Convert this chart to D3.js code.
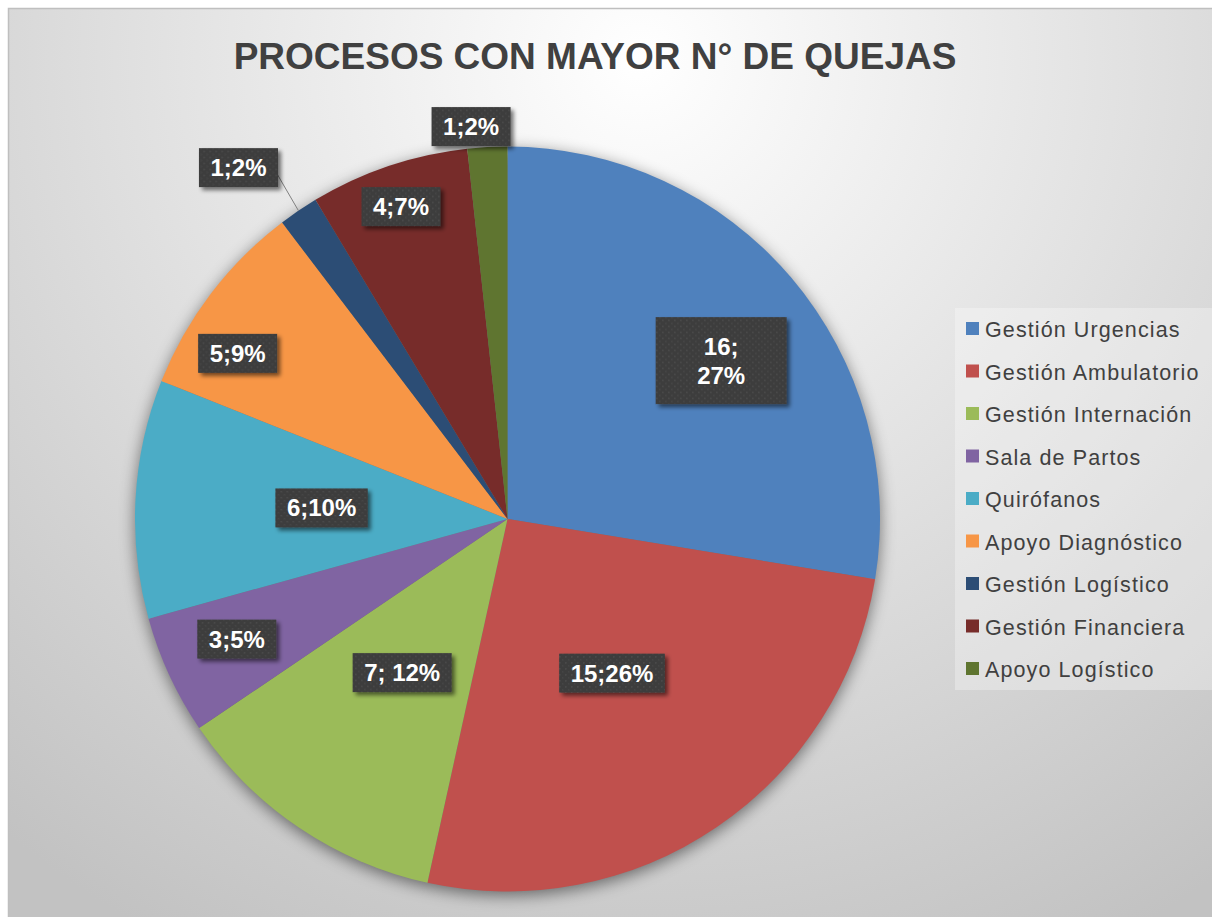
<!DOCTYPE html>
<html lang="es">
<head>
<meta charset="utf-8">
<title>Procesos con mayor N° de quejas</title>
<script src="https://d3js.org/d3.v7.min.js"></script>
<style>
  html, body { margin: 0; padding: 0; background: #ffffff; overflow: hidden; }
  svg { display: block; font-family: "Liberation Sans", Arial, sans-serif; }
</style>
</head>
<body>
<div id="chart"></div>
<script>
/* ------------------------------------------------------------
 *  Data
 * ------------------------------------------------------------ */
var categories = ["Gestión Urgencias", "Gestión Ambulatorio", "Gestión Internación", "Sala de Partos",
                  "Quirófanos", "Apoyo Diagnóstico", "Gestión Logístico", "Gestión Financiera", "Apoyo Logístico"];
var values = [16, 15, 7, 3, 6, 5, 1, 4, 1];
var labels = ["16;\n27%", "15;26%", "7; 12%", "3;5%", "6;10%", "5;9%", "1;2%", "4;7%", "1;2%"];
var colors = ["#4f81bd", "#c0504d", "#9bbb59", "#8064a2", "#4bacc6", "#f79646", "#2c4d75", "#772c2a", "#5f7530"];

// label placement (fraction of radius, angle nudge in degrees) - mimics excel "best fit"
var labelRadius = [0.714, 0.5, 0.5, 0.795, 0.5, 0.85, 1.188, 0.886, 1.058];
var labelShift  = [3.8, 0, 0.3, 0.9, 0.3, -5.7, -3.3, -0.2, -2.2];

var W = 1212, H = 917;
var cx = 507.5, cy = 519, R = 372.5;

var svg = d3.select("#chart").append("svg")
    .attr("width", W).attr("height", H);

var defs = svg.append("defs");

// background gradient
var bg = defs.append("radialGradient").attr("id", "bg")
    .attr("gradientUnits", "userSpaceOnUse")
    .attr("cx", 640).attr("cy", 60).attr("r", 1000);
bg.append("stop").attr("offset", "0%").attr("stop-color", "#ffffff");
bg.append("stop").attr("offset", "100%").attr("stop-color", "#c2c2c2");

// soft shadow for the pie
var pf = defs.append("filter").attr("id", "pieShadow")
    .attr("x", "-20%").attr("y", "-20%").attr("width", "140%").attr("height", "140%");
pf.append("feGaussianBlur").attr("in", "SourceAlpha").attr("stdDeviation", 8);
pf.append("feOffset").attr("dx", 0).attr("dy", 4).attr("result", "b");
pf.append("feComponentTransfer").append("feFuncA").attr("type", "linear").attr("slope", 0.5);

// label shadow
var lf = defs.append("filter").attr("id", "boxShadow")
    .attr("x", "-30%").attr("y", "-30%").attr("width", "160%").attr("height", "160%");
lf.append("feGaussianBlur").attr("in", "SourceAlpha").attr("stdDeviation", 2);
lf.append("feOffset").attr("dx", 3).attr("dy", 3).attr("result", "off");
lf.append("feComponentTransfer").attr("result", "sh").append("feFuncA").attr("type", "linear").attr("slope", 0.55);
var lm = lf.append("feMerge");
lm.append("feMergeNode").attr("in", "sh");
lm.append("feMergeNode").attr("in", "SourceGraphic");

// dotted fill of the label boxes
var pat = defs.append("pattern").attr("id", "dots")
    .attr("patternUnits", "userSpaceOnUse").attr("width", 6).attr("height", 6);
pat.append("rect").attr("width", 6).attr("height", 6).attr("fill", "#3d3d3d");
pat.append("rect").attr("x", 1).attr("y", 1).attr("width", 1.5).attr("height", 1.5).attr("fill", "#4d4d4d");
pat.append("rect").attr("x", 4).attr("y", 4).attr("width", 1.5).attr("height", 1.5).attr("fill", "#474747");

// chart area
svg.append("rect")
    .attr("x", 8.5).attr("y", 8.5).attr("width", W + 10).attr("height", H + 10)
    .attr("fill", "url(#bg)").attr("stroke", "#bfbfbf").attr("stroke-width", 1.5);

// title
svg.append("text")
    .attr("x", 595).attr("y", 69)
    .attr("text-anchor", "middle")
    .attr("font-size", 37).attr("font-weight", "bold")
    .attr("fill", "#404040")
    .text("PROCESOS CON MAYOR N° DE QUEJAS");

/* ------------------------------------------------------------
 *  Pie
 * ------------------------------------------------------------ */
var pie = d3.pie().sort(null).startAngle(0).endAngle(2 * Math.PI);
var arcs = pie(values);
var arc = d3.arc().innerRadius(0).outerRadius(R);

var g = svg.append("g").attr("transform", "translate(" + cx + "," + cy + ")");

g.append("circle").attr("r", R).attr("fill", "#000").attr("filter", "url(#pieShadow)");

g.selectAll("path.slice")
    .data(arcs)
    .enter()
    .append("path")
    .attr("class", "slice")
    .attr("d", arc)
    .attr("fill", (d, i) => colors[i]);

function labelPos(d, i) {
    var a = (d.startAngle + d.endAngle) / 2 + labelShift[i] * Math.PI / 180;
    var r = R * labelRadius[i];
    return [Math.sin(a) * r, -Math.cos(a) * r];
}

// leader lines for labels outside the pie
arcs.forEach(function(d, i) {
    if (labelRadius[i] > 1.1) {
        var a = (d.startAngle + d.endAngle) / 2;
        var p = labelPos(d, i);
        g.append("line")
            .attr("x1", Math.sin(a) * R * 1.0).attr("y1", -Math.cos(a) * R * 1.0)
            .attr("x2", p[0] + 39).attr("y2", p[1] + 7)
            .attr("stroke", "#808080").attr("stroke-width", 1);
    }
});

var lab = g.selectAll("g.lab")
    .data(arcs)
    .enter()
    .append("g")
    .attr("class", "lab")
    .attr("transform", (d, i) => "translate(" + labelPos(d, i) + ")");

lab.each(function(d, i) {
    var el = d3.select(this);
    var lines = labels[i].split("\n");
    var box = el.append("rect").attr("fill", "url(#dots)").attr("filter", "url(#boxShadow)");
    var t = el.append("text")
        .attr("text-anchor", "middle")
        .attr("font-size", 24).attr("font-weight", "bold")
        .attr("fill", "#ffffff");
    var lh = 29;
    lines.forEach(function(s, k) {
        t.append("tspan")
            .attr("x", 0)
            .attr("y", (k - (lines.length - 1) / 2) * lh + 8.5)
            .text(s);
    });
    var bw = t.node().getBBox().width + 23;
    var bh = 39;
    if (lines.length > 1) { bw = 131; bh = 87; }
    box.attr("x", -bw / 2).attr("y", -bh / 2).attr("width", bw).attr("height", bh);
});

/* ------------------------------------------------------------
 *  Legend
 * ------------------------------------------------------------ */
var legend = svg.append("g").attr("transform", "translate(955,308)");
legend.append("rect")
    .attr("width", 270).attr("height", 382)
    .attr("fill", "#ffffff").attr("fill-opacity", 0.3);

var ly = d3.scalePoint().domain(categories).range([21, 361]);

var item = legend.selectAll("g.item")
    .data(categories)
    .enter()
    .append("g")
    .attr("class", "item")
    .attr("transform", d => "translate(0," + ly(d) + ")");

item.append("rect")
    .attr("x", 11).attr("y", -7).attr("width", 13).attr("height", 13)
    .attr("fill", (d, i) => colors[i]);

item.append("text")
    .attr("x", 30).attr("y", 8)
    .attr("font-size", 21.5)
    .attr("letter-spacing", 1.1)
    .attr("fill", "#404040")
    .text(d => d);
</script>
</body>
</html>
